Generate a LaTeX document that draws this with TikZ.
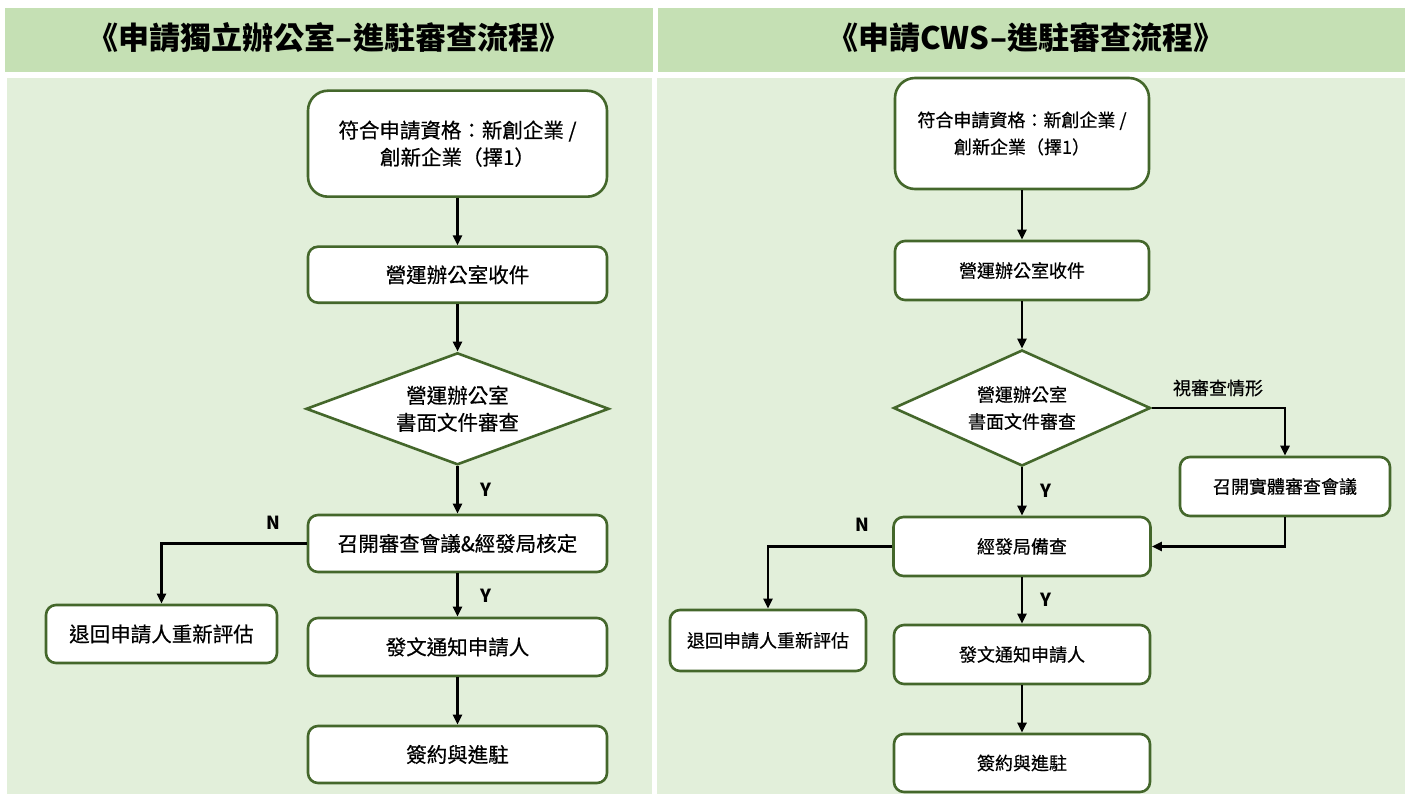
\documentclass[tikz,border=0pt]{standalone}
\usepackage{fontspec}
\setmainfont{Noto Sans CJK TC}
\newfontfamily\medfont{Noto Sans CJK TC}[FakeBold=0.5]
\usetikzlibrary{shapes.geometric,arrows.meta}
\definecolor{hdr}{HTML}{C5E0B4}
\definecolor{bodyg}{HTML}{E2EFDA}
\definecolor{bord}{HTML}{44672B}
\newcommand\fontL{\medfont\fontsize{20.5}{27}\selectfont}
\newcommand\fontR{\medfont\fontsize{18}{27}\selectfont}
\newcommand\fontT{\fontsize{31}{36}\selectfont\bfseries}
\begin{document}
\begin{tikzpicture}[x=1pt,y=-1pt,
  box/.style={draw=bord,line width=2.6pt,fill=white,rounded corners=10pt,inner sep=0pt,align=center},
  bigbox/.style={box,rounded corners=20pt},
  dia/.style={draw=bord,line width=2.6pt,fill=white,shape=diamond,inner sep=0pt,aspect=2.6,align=center},
  arr/.style={line width=2.4pt,-{Triangle[length=10pt,width=9pt]}},
  lbl/.style={inner sep=0pt,font=\fontsize{18}{20}\selectfont\bfseries},
  ttl/.style={inner sep=0pt,font=\fontT}]
\useasboundingbox (0,0) rectangle (1405,794);
\fill[white] (0,0) rectangle (1405,794);
\fill[hdr] (5,8) rectangle (653,72);
\fill[hdr] (658,8) rectangle (1405,72);
\fill[bodyg] (7,78) rectangle (652,794);
\fill[bodyg] (657,78) rectangle (1405,794);
\node[ttl] (t1) at (329,38) {《申請獨立辦公室–進駐審查流程》};
\node[ttl] (t2) at (1026,38) {《申請CWS–進駐審查流程》};

% left flow
\begin{scope}[font=\fontL]
\node[bigbox,minimum width=299pt,minimum height=106pt] (L1) at (457.5,143.7) {符合申請資格：新創企業 /\\創新企業（擇1）};
\node[box,minimum width=299pt,minimum height=56pt] (L2) at (457.5,274.7) {營運辦公室收件};
\node[dia,minimum width=303pt,minimum height=112pt] (L3) at (457.5,408.8) {營運辦公室\\書面文件審查};
\node[box,minimum width=299pt,minimum height=57pt] (L4) at (457.5,543.5) {召開審查會議\&經發局核定};
\node[box,minimum width=231pt,minimum height=58pt] (LR) at (161.5,634) {退回申請人重新評估};
\node[box,minimum width=299pt,minimum height=58pt] (L5) at (457.5,647) {發文通知申請人};
\node[box,minimum width=299pt,minimum height=57pt] (L6) at (457.5,754.5) {簽約與進駐};
\end{scope}
\node[lbl] (ly1) at (486,490) {Y};
\node[lbl] (ly2) at (486,596) {Y};
\node[lbl] (ln) at (273,523) {N};
\draw[arr] (L1.south) -- (L2.north);
\draw[arr] (L2.south) -- (L3.north);
\draw[arr] (L3.south) -- (L4.north);
\draw[arr] (L4.west) -| (LR.north);
\draw[arr] (L4.south) -- (L5.north);
\draw[arr] (L5.south) -- (L6.north);

% right flow
\begin{scope}[font=\fontR]
\node[bigbox,minimum width=254pt,minimum height=111pt] (R1) at (1022,133.5) {符合申請資格：新創企業 /\\創新企業（擇1）};
\node[box,minimum width=254pt,minimum height=59pt] (R2) at (1022,270.5) {營運辦公室收件};
\node[dia,minimum width=257pt,minimum height=116pt] (R3) at (1022,408) {營運辦公室\\書面文件審查};
\node[box,minimum width=210pt,minimum height=59pt] (RM) at (1285,486.5) {召開實體審查會議};
\node[box,minimum width=257pt,minimum height=59pt] (R4) at (1022,546.5) {經發局備查};
\node[box,minimum width=196pt,minimum height=61pt] (RR) at (768,640.5) {退回申請人重新評估};
\node[box,minimum width=256pt,minimum height=59pt] (R5) at (1022,654.5) {發文通知申請人};
\node[box,minimum width=256pt,minimum height=58pt] (R6) at (1022,763) {簽約與進駐};
\node[inner sep=0pt] (rcase) at (1218,388) {視審查情形};
\end{scope}
\node[lbl] (ry1) at (1046,491) {Y};
\node[lbl] (ry2) at (1046,600) {Y};
\node[lbl] (rn) at (862,525) {N};
\draw[arr] (R1.south) -- (R2.north);
\draw[arr] (R2.south) -- (R3.north);
\draw[arr] (R3.south) -- (R4.north);
\draw[arr] (R3.east) -| (RM.north);
\draw[arr] (RM.south) |- (R4.east);
\draw[arr] (R4.west) -| (RR.north);
\draw[arr] (R4.south) -- (R5.north);
\draw[arr] (R5.south) -- (R6.north);
\end{tikzpicture}
\end{document}
